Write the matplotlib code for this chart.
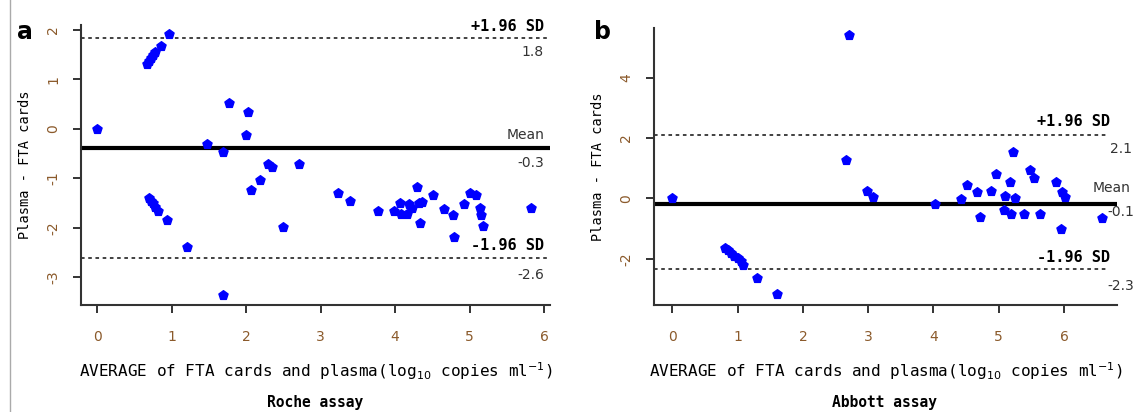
import matplotlib.pyplot as plt
from matplotlib.lines import Line2D

# ========================================
# Datos
# ========================================
roche_avg = [0.00, 0.66, 0.69, 0.72, 0.75, 0.78, 0.86, 0.96,
             1.47, 1.69, 1.77, 2.00, 2.02, 2.29, 2.34, 2.71, 2.19, 2.07, 2.49,
             0.69, 0.72, 0.75, 0.78, 0.82, 0.93, 1.20, 1.69,
             3.23, 3.39, 3.77, 3.98, 4.06, 4.08, 4.16, 4.19, 4.22, 4.30, 4.32,
             4.36, 4.33, 4.51, 4.66, 4.78, 4.79, 4.93, 5.00, 5.09, 5.14, 5.15,
             5.18, 5.83]
roche_diff = [0.00, 1.32, 1.38, 1.44, 1.50, 1.55, 1.68, 1.92,
              -0.30, -0.47, 0.53, -0.13, 0.34, -0.71, -0.78, -0.70, -1.03, -1.24, -1.99,
              -1.40, -1.45, -1.50, -1.57, -1.65, -1.85, -2.39, -3.35,
              -1.29, -1.46, -1.65, -1.65, -1.50, -1.72, -1.72, -1.52, -1.59, -1.17, -1.50,
              -1.47, -1.91, -1.34, -1.61, -1.75, -2.18, -1.52, -1.30, -1.34, -1.59, -1.74,
              -1.96, -1.59]
roche_lines = [1.84, -0.385, -2.61]      # +1.96 SD, media, -1.96 SD
roche_labels = ["1.8", "-0.3", "-2.6"]

abbott_avg = [0.00, 2.71, 2.66, 2.98, 3.07,
              0.81, 0.85, 0.90, 0.95, 1.00, 1.05, 1.09, 1.30, 1.60,
              4.02, 4.42, 4.52, 4.67, 4.71, 4.88, 4.95, 5.08, 5.10, 5.17, 5.19,
              5.22, 5.25, 5.38, 5.48, 5.54, 5.63, 5.88, 5.95, 5.97, 6.02, 6.58]
abbott_diff = [0.00, 5.41, 1.27, 0.25, 0.03,
               -1.64, -1.72, -1.80, -1.90, -1.98, -2.08, -2.19, -2.65, -3.18,
               -0.17, -0.02, 0.44, 0.21, -0.61, 0.25, 0.80, -0.37, 0.08, 0.53, -0.52,
               1.53, 0.00, -0.52, 0.94, 0.68, -0.52, 0.53, -1.03, 0.22, 0.05, -0.64]
abbott_lines = [2.10, -0.17, -2.33]
abbott_labels = ["2.1", "-0.1", "-2.3"]

roche_xticks = [0, 1, 2, 3, 4, 5, 6]
roche_yticks = [-3, -2, -1, 0, 1, 2]
abbott_xticks = [0, 1, 2, 3, 4, 5, 6]
abbott_yticks = [-2, 0, 2, 4]

# ========================================
# Estilo
# ========================================
plt.rcParams["axes.unicode_minus"] = False
azul = "#0000ff"
color_tick = "#8b5a2b"
color_eje = "#333333"
mono = "DejaVu Sans Mono"
xlabel = r"AVERAGE of FTA cards and plasma(log$_{10}$ copies ml$^{-1}$)"

W, H = 1134, 412
fig = plt.figure(figsize=(W / 100, H / 100), dpi=100)


def px_axes(left, top, right, bottom):
    return fig.add_axes([left / W, 1 - bottom / H, (right - left) / W, (bottom - top) / H])


def estilo(ax, xticks, yticks):
    for s in ["top", "right"]:
        ax.spines[s].set_visible(False)
    for s in ["left", "bottom"]:
        ax.spines[s].set_color(color_eje)
        ax.spines[s].set_linewidth(1.5)
    ax.set_xticks(xticks)
    ax.set_yticks(yticks)
    ax.tick_params(axis="both", length=6, width=1.4, color=color_eje,
                   labelcolor=color_tick, labelsize=10)
    ax.tick_params(axis="x", pad=12)
    ax.tick_params(axis="y", pad=9)
    for t in ax.get_yticklabels():
        t.set_rotation(90)
        t.set_va("center")
    ax.set_xlabel(xlabel, fontfamily=mono, fontsize=11.5, labelpad=12)
    ax.set_ylabel("Plasma - FTA cards", fontfamily=mono, fontsize=9.8, labelpad=10)


# ==========================================================
#   a) Roche
# ==========================================================
ax1 = px_axes(81, 25, 550, 305)
ax1.scatter(roche_avg, roche_diff, marker="p", s=48, color=azul, zorder=3)
ax1.axhline(roche_lines[1], color="black", lw=3)
ax1.axhline(roche_lines[0], color=color_eje, lw=1.3, ls=(0, (2, 2)))
ax1.axhline(roche_lines[2], color=color_eje, lw=1.3, ls=(0, (2, 2)))
ax1.set_xlim(-0.22, 6.08)
ax1.set_ylim(-3.56, 2.1)
estilo(ax1, roche_xticks, roche_yticks)

xr = 6.0
ax1.annotate("+1.96 SD", (xr, roche_lines[0]), xytext=(0, 11), textcoords="offset pixels",
             ha="right", va="center", fontfamily=mono, fontweight="bold", fontsize=11)
ax1.annotate(roche_labels[0], (xr, roche_lines[0]), xytext=(0, -14), textcoords="offset pixels",
             ha="right", va="center", fontsize=10, color=color_eje, annotation_clip=False)
ax1.annotate("Mean", (xr, roche_lines[1]), xytext=(0, 13), textcoords="offset pixels",
             ha="right", va="center", fontsize=10, color=color_eje)
ax1.annotate(roche_labels[1], (xr, roche_lines[1]), xytext=(0, -15), textcoords="offset pixels",
             ha="right", va="center", fontsize=10, color=color_eje)
ax1.annotate("-1.96 SD", (xr, roche_lines[2]), xytext=(0, 13), textcoords="offset pixels",
             ha="right", va="center", fontfamily=mono, fontweight="bold", fontsize=11)
ax1.annotate(roche_labels[2], (xr, roche_lines[2]), xytext=(0, -17), textcoords="offset pixels",
             ha="right", va="center", fontsize=10, color=color_eje)

# ==========================================================
#   b) Abbott
# ==========================================================
ax2 = px_axes(654, 28, 1117, 305)
ax2.scatter(abbott_avg, abbott_diff, marker="p", s=48, color=azul, zorder=3)
ax2.axhline(abbott_lines[1], color="black", lw=3)
ax2.axhline(abbott_lines[0], color=color_eje, lw=1.3, ls=(0, (2, 2)), xmax=0.98)
ax2.axhline(abbott_lines[2], color=color_eje, lw=1.3, ls=(0, (2, 2)), xmax=0.98)
ax2.set_xlim(-0.28, 6.81)
ax2.set_ylim(-3.53, 5.64)
estilo(ax2, abbott_xticks, abbott_yticks)

# etiquetas de la derecha alineadas al borde de la figura
ax2.annotate("+1.96 SD", (6.70, abbott_lines[0]), xytext=(0, 13), textcoords="offset pixels",
             ha="right", va="center", fontfamily=mono, fontweight="bold", fontsize=11)
ax2.annotate(abbott_labels[0], (6.71, abbott_lines[0]), xytext=(0, -14), textcoords="offset pixels",
             ha="left", va="center", fontsize=10, color=color_eje, annotation_clip=False)
ax2.annotate("Mean", (6.44, abbott_lines[1]), xytext=(0, 16), textcoords="offset pixels",
             ha="left", va="center", fontsize=10, color=color_eje, annotation_clip=False)
ax2.annotate(abbott_labels[1], (6.67, abbott_lines[1]), xytext=(0, -8), textcoords="offset pixels",
             ha="left", va="center", fontsize=10, color=color_eje, annotation_clip=False)
ax2.annotate("-1.96 SD", (6.70, abbott_lines[2]), xytext=(0, 11), textcoords="offset pixels",
             ha="right", va="center", fontfamily=mono, fontweight="bold", fontsize=11)
ax2.annotate(abbott_labels[2], (6.66, abbott_lines[2]), xytext=(0, -17), textcoords="offset pixels",
             ha="left", va="center", fontsize=10, color=color_eje, annotation_clip=False)

# ========================================
# Letras de panel, titulos y borde
# ========================================
fig.text(25 / W, 1 - 32 / H, "a", fontsize=17, fontweight="bold", ha="center", va="center")
fig.text(603 / W, 1 - 32 / H, "b", fontsize=17, fontweight="bold", ha="center", va="center")
fig.text(315 / W, 1 - 402 / H, "Roche assay", fontfamily=mono, fontweight="bold",
         fontsize=10.5, ha="center", va="center")
fig.text(885 / W, 1 - 402 / H, "Abbott assay", fontfamily=mono, fontweight="bold",
         fontsize=10.5, ha="center", va="center")
fig.add_artist(Line2D([9.5 / W, 9.5 / W], [0, 1], color="#aaaaaa", lw=1))

fig.savefig("out.png", dpi=100)
